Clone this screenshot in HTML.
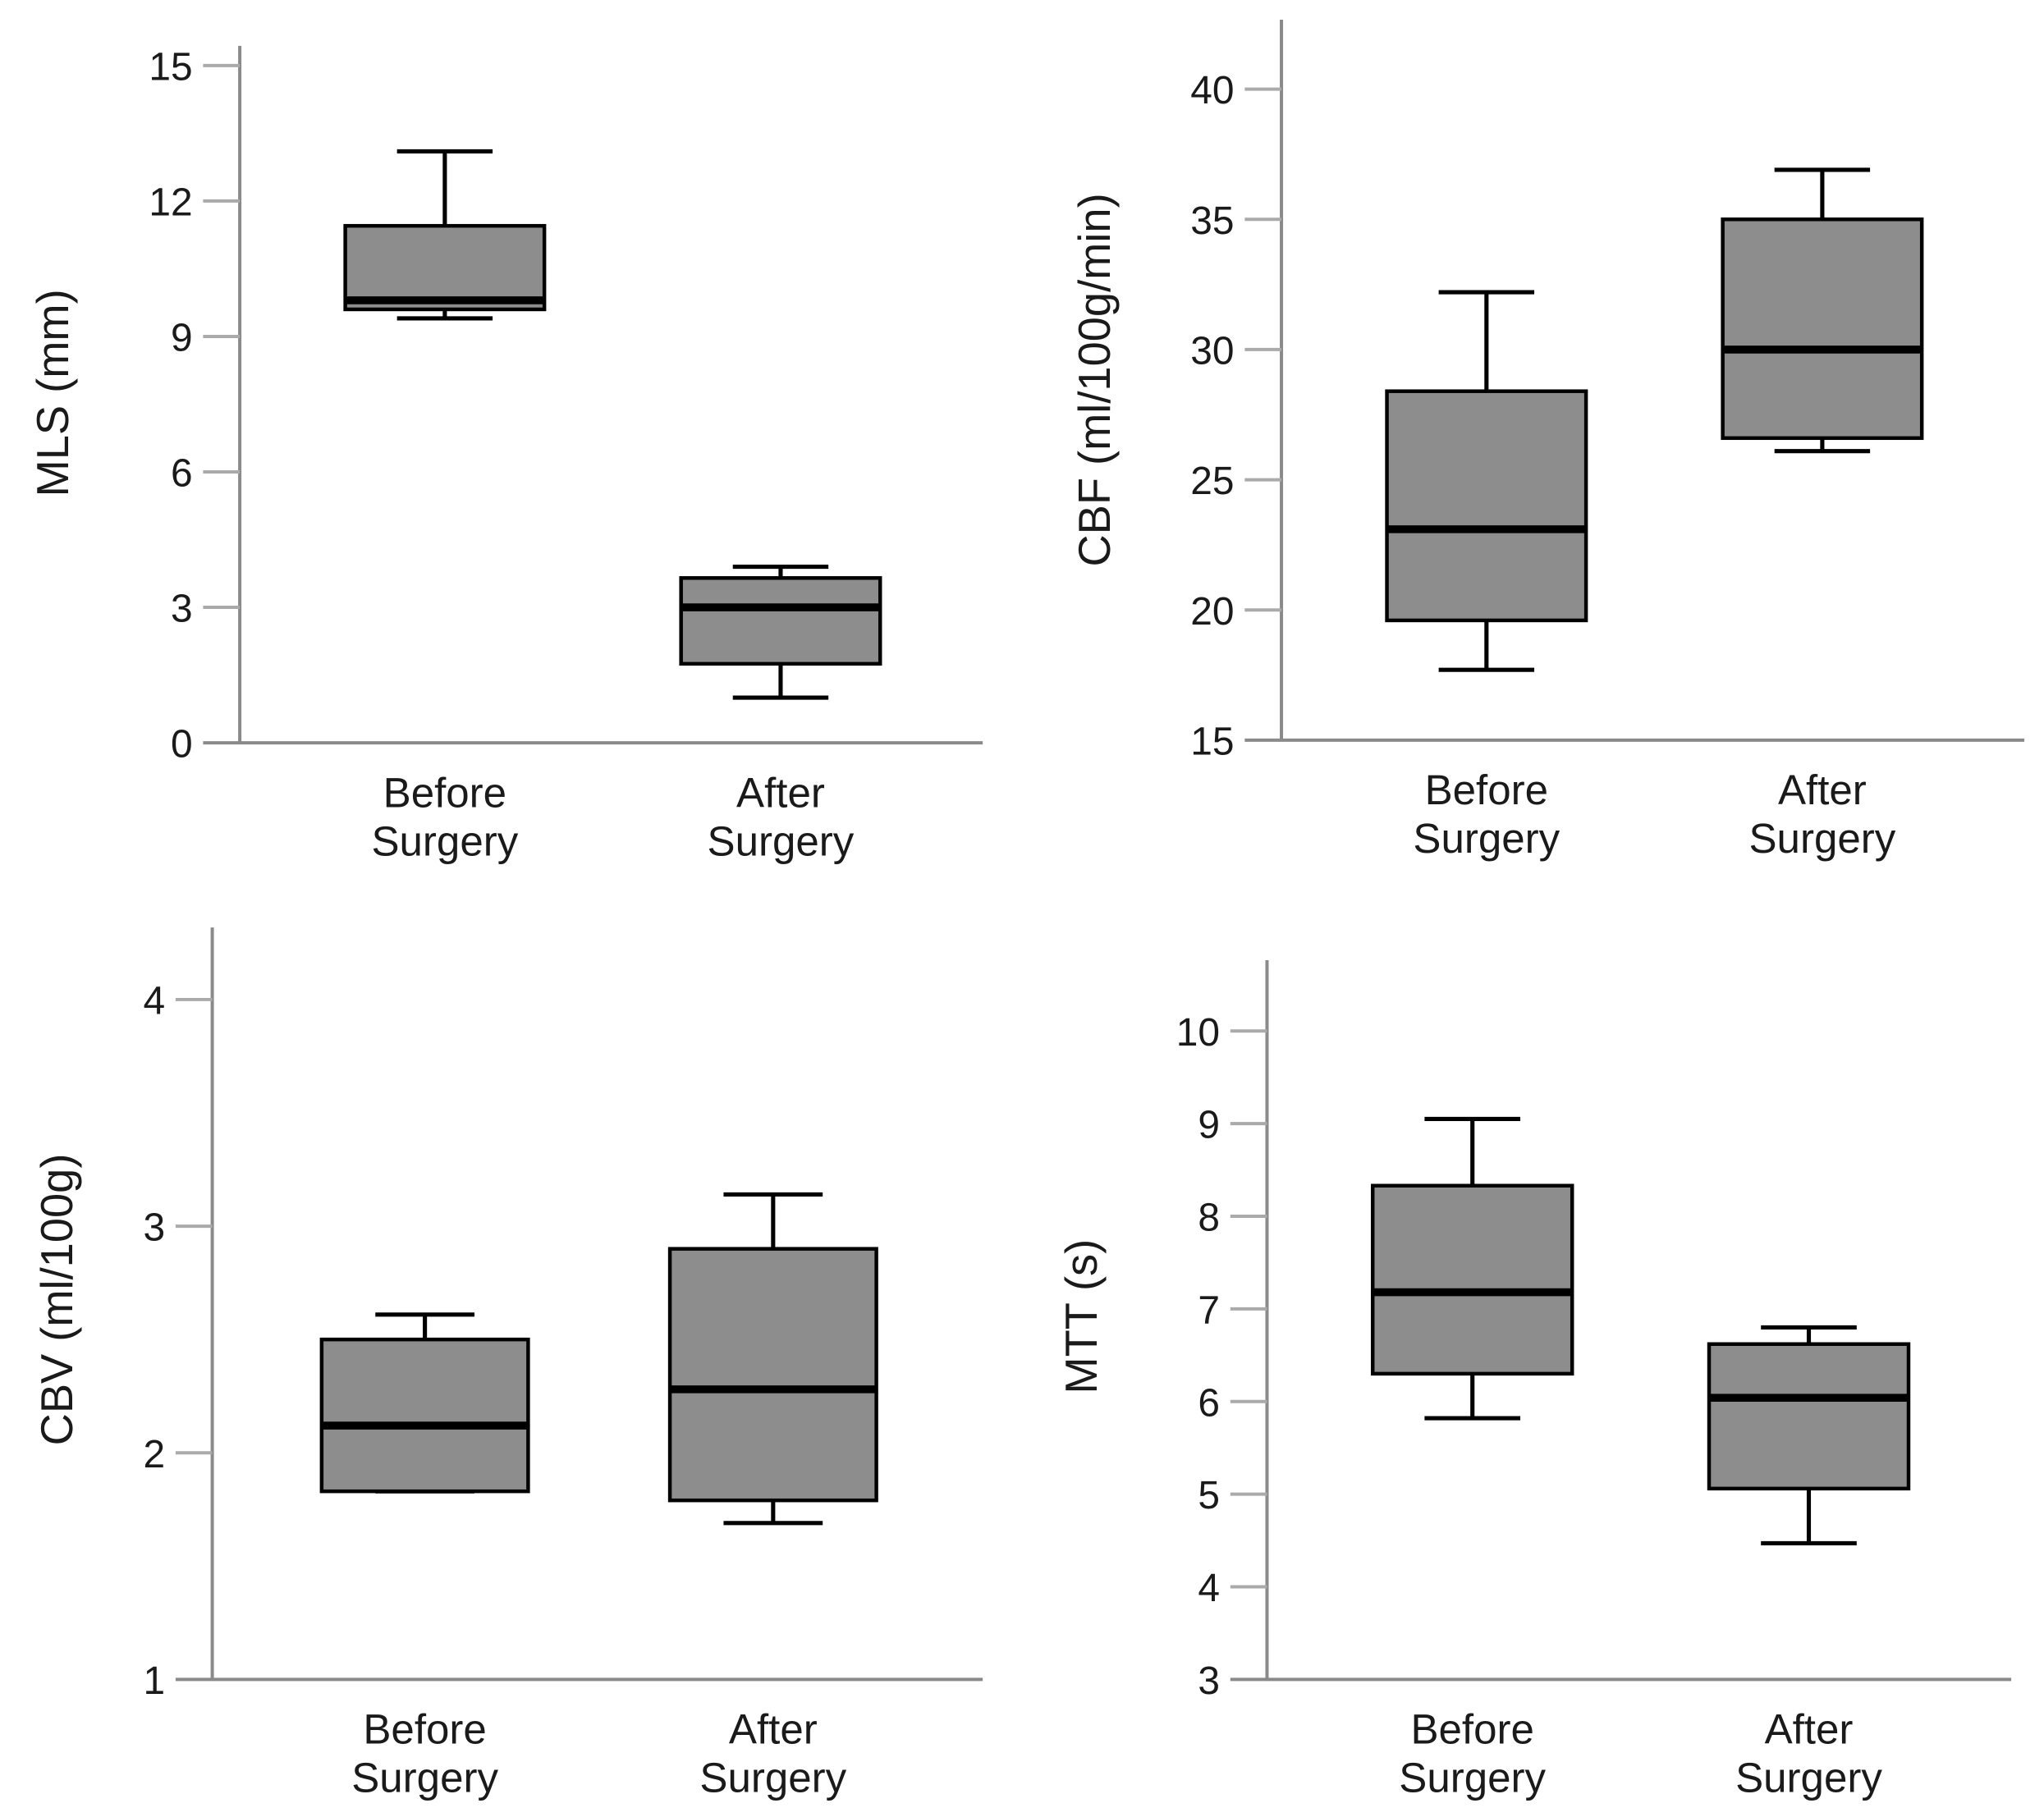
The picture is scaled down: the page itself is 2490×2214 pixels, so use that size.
<!DOCTYPE html>
<html><head><meta charset="utf-8"><style>
html,body{margin:0;padding:0;background:#fff}
svg{display:block}
text{font-family:"Liberation Sans","DejaVu Sans",sans-serif;fill:#1a1a1a}
</style></head><body>
<svg id="fig" width="2490" height="2214" viewBox="0 0 1560 1387" xmlns="http://www.w3.org/2000/svg"></svg>
<script>
// ---- data ----
const categories = ["Before Surgery", "After Surgery"];
const mlsTicks = [0, 3, 6, 9, 12, 15];
const mlsMin = [9.4, 1.0], mlsQ1 = [9.6, 1.75], mlsMed = [9.8, 3.0], mlsQ3 = [11.45, 3.65], mlsMax = [13.1, 3.9];
const cbfTicks = [15, 20, 25, 30, 35, 40];
const cbfMin = [17.7, 26.1], cbfQ1 = [19.6, 26.6], cbfMed = [23.1, 30.0], cbfQ3 = [28.4, 35.0], cbfMax = [32.2, 36.9];
const cbvTicks = [1, 2, 3, 4];
const cbvMin = [1.83, 1.69], cbvQ1 = [1.83, 1.79], cbvMed = [2.12, 2.28], cbvQ3 = [2.5, 2.9], cbvMax = [2.61, 3.14];
const mttTicks = [3, 4, 5, 6, 7, 8, 9, 10];
const mttMin = [5.82, 4.47], mttQ1 = [6.3, 5.06], mttMed = [7.18, 6.04], mttQ3 = [8.33, 6.62], mttMax = [9.05, 6.8];

const NS = "http://www.w3.org/2000/svg";
const svg = document.getElementById("fig");
function mk(tag, attrs, parent) {
  const e = document.createElementNS(NS, tag);
  for (const k in attrs) e.setAttribute(k, attrs[k]);
  (parent || svg).appendChild(e);
  return e;
}

function drawPanel(cfg) {
  const g = mk("g", {});
  
  
  const lo = cfg.ticks[0], hi = cfg.ticks[cfg.ticks.length - 1];
  const y = v => cfg.bottom - (v - lo) / (hi - lo) * (cfg.bottom - cfg.topTick);
  const xs = [cfg.x0 + (cfg.right - cfg.x0) * 0.276, cfg.x0 + (cfg.right - cfg.x0) * 0.728];
  const halfBox = (cfg.right - cfg.x0) * 0.134, halfCap = halfBox * 0.48;
  const ya = mk("line", {x1: cfg.x0, y1: cfg.top, x2: cfg.x0, y2: cfg.bottom, stroke: "#8a8a8a", "stroke-width": 2.5}, g);
  
  
  const xa = mk("line", {x1: cfg.x0 - 28, y1: cfg.bottom, x2: cfg.right, y2: cfg.bottom, stroke: "#8a8a8a", "stroke-width": 2.5}, g);
  
  
  cfg.ticks.forEach(t => {
    const yy = y(t);
    if (t !== lo) mk("line", {x1: cfg.x0 - 28, y1: yy, x2: cfg.x0, y2: yy, stroke: "#aaa", "stroke-width": 2.5}, g);
    const tx = mk("text", {x: cfg.x0 - 36, y: yy + 11, "text-anchor": "end", "font-size": 30}, g);
    tx.textContent = t;
    
    
  });
  const tt = mk("text", {x: 0, y: 0, "text-anchor": "middle", "font-size": 34, transform: `translate(${cfg.titleX},${cfg.titleY}) rotate(-90)`}, g);
  tt.textContent = cfg.title;
  
  
  categories.forEach((c, i) => {
    const cx = xs[i];
    const parts = c.split(" ");
    parts.forEach((p, j) => {
      const lt = mk("text", {x: cx, y: cfg.bottom + 49 + j * 37, "text-anchor": "middle", "font-size": 32}, g);
      lt.textContent = p;
      
      
    });
    const bx = mk("g", {}, g);
    
    
    const st = {stroke: "#000", "stroke-width": 3.2};
    mk("line", Object.assign({x1: cx, y1: y(cfg.max[i]), x2: cx, y2: y(cfg.q3[i])}, st), bx);
    mk("line", Object.assign({x1: cx, y1: y(cfg.min[i]), x2: cx, y2: y(cfg.q1[i])}, st), bx);
    mk("line", Object.assign({x1: cx - halfCap, y1: y(cfg.max[i]), x2: cx + halfCap, y2: y(cfg.max[i])}, st), bx);
    mk("line", Object.assign({x1: cx - halfCap, y1: y(cfg.min[i]), x2: cx + halfCap, y2: y(cfg.min[i])}, st), bx);
    mk("rect", {x: cx - halfBox, y: y(cfg.q3[i]), width: 2 * halfBox, height: Math.max(1, y(cfg.q1[i]) - y(cfg.q3[i])), fill: "#8d8d8d", stroke: "#000", "stroke-width": 2.8}, bx);
    mk("line", {x1: cx - halfBox, y1: y(cfg.med[i]), x2: cx + halfBox, y2: y(cfg.med[i]), stroke: "#000", "stroke-width": 6}, bx);
  });
}

drawPanel({name: "mls-panel", title: "MLS (mm)", ticks: mlsTicks, min: mlsMin, q1: mlsQ1, med: mlsMed, q3: mlsQ3, max: mlsMax,
  x0: 183, right: 750, top: 35, topTick: 50, bottom: 567, titleX: 52, titleY: 300});
drawPanel({name: "cbf-panel", title: "CBF (ml/100g/min)", ticks: cbfTicks, min: cbfMin, q1: cbfQ1, med: cbfMed, q3: cbfQ3, max: cbfMax,
  x0: 978, right: 1545, top: 15, topTick: 68, bottom: 565, titleX: 847, titleY: 290});
drawPanel({name: "cbv-panel", title: "CBV (ml/100g)", ticks: cbvTicks, min: cbvMin, q1: cbvQ1, med: cbvMed, q3: cbvQ3, max: cbvMax,
  x0: 162, right: 750, top: 708, topTick: 763, bottom: 1282, titleX: 55, titleY: 992});
drawPanel({name: "mtt-panel", title: "MTT (s)", ticks: mttTicks, min: mttMin, q1: mttQ1, med: mttMed, q3: mttQ3, max: mttMax,
  x0: 967, right: 1535, top: 733, topTick: 787, bottom: 1282, titleX: 837, titleY: 1005});
</script>
</body></html>
